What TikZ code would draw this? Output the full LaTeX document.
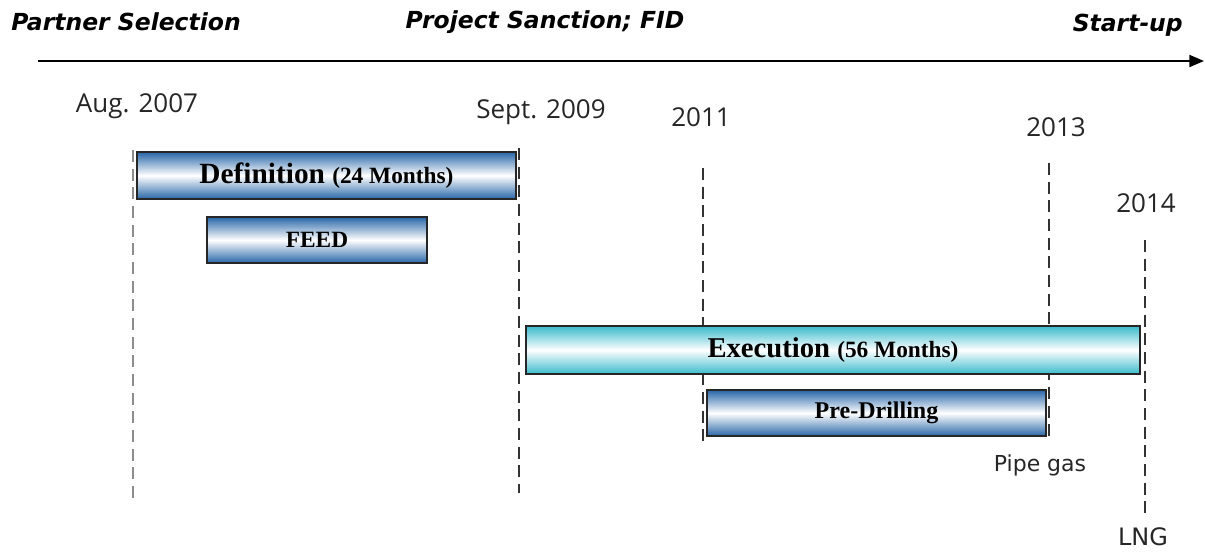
\documentclass[tikz,border=0pt]{standalone}
\usepackage{fontspec}
\setmainfont{Liberation Serif}
\newfontfamily\headfont{DejaVu Sans}
\newfontfamily\datefont{Open Sans}
\usetikzlibrary{arrows.meta}
\definecolor{barblue}{RGB}{40,102,168}
\definecolor{barcyan}{RGB}{58,186,204}
\begin{document}
\begin{tikzpicture}[x=0.75pt,y=-0.75pt,
  milestone/.style={font=\headfont\bfseries\itshape\fontsize{17.6}{20}\selectfont, inner sep=0pt},
  datelabel/.style={font=\datefont\fontsize{19.5}{22}\selectfont, text=black!85, inner sep=0pt},
  note/.style={font=\headfont\fontsize{16.5}{19}\selectfont, text=black!85, inner sep=0pt},
  phase/.style={draw=black!85, line width=1.1pt, inner sep=0pt,
    top color=barblue, bottom color=barblue, middle color=white,
    font=\bfseries},
  execphase/.style={phase, top color=barcyan, bottom color=barcyan, middle color=white},
  marker/.style={dashed, dash pattern=on 9pt off 5pt, line width=1pt, black!80},
  greymarker/.style={marker, black!45, line width=1.4pt}
]
\useasboundingbox (0,0) rectangle (1205,551);

% time axis
\coordinate (axisL) at (38,61);
\coordinate (axisR) at (1204,61);
\draw[line width=1.5pt, -{Triangle[length=11pt,width=9pt]}] (axisL) -- (axisR);

% milestones above the axis
\node[milestone] (partner) at (126,22) {Partner Selection};
\node[milestone] (sanction) at (545,22) {Project Sanction; FID};
\node[milestone, anchor=east] (startup) at (1183,25) {Start-up};

% dates
\node[datelabel] (d2007) at (137,106) {Aug. 2007};
\node[datelabel] (d2009) at (541,112) {Sept. 2009};
\node[datelabel] (d2011) at (701,117) {2011};
\node[datelabel] (d2013) at (1056,127) {2013};
\node[datelabel] (d2014) at (1146,203) {2014};

% date markers
\coordinate (m1t) at (133,150); \coordinate (m1b) at (133,500);
\coordinate (m2t) at (519,148); \coordinate (m2b) at (519,493);
\coordinate (m3t) at (703,168); \coordinate (m3b) at (703,445);
\coordinate (m4t) at (1049,163); \coordinate (m4b) at (1049,440);
\coordinate (m5t) at (1145,240); \coordinate (m5b) at (1145,513);
\draw[greymarker] (m1t) -- (m1b);
\draw[marker] (m2t) -- (m2b);
\draw[marker] (m3t) -- (m3b);
\draw[marker] (m4t) -- (m4b);
\draw[marker] (m5t) -- (m5b);

% phases
\node[phase, minimum width=284.25pt, minimum height=35.25pt] (definition) at (326.5,175.5)
  {\fontsize{22}{24}\selectfont Definition \fontsize{17.5}{20}\selectfont(24 Months)};
\node[phase, minimum width=165pt, minimum height=34.5pt] (feed) at (317,240)
  {\fontsize{17.5}{20}\selectfont FEED};
\node[execphase, minimum width=460.5pt, minimum height=36pt] (execution) at (833,350)
  {\fontsize{21.5}{24}\selectfont Execution \fontsize{17.5}{20}\selectfont(56 Months)};
\node[phase, minimum width=254.25pt, minimum height=34.5pt] (predrill) at (876.5,413)
  {\fontsize{18}{20}\selectfont Pre-Drilling};

% first production
\node[note] (pipegas) at (1040,465) {Pipe gas};
\node[note, font=\headfont\fontsize{18}{20}\selectfont] (lng) at (1143,537) {LNG};
\end{tikzpicture}
\end{document}
